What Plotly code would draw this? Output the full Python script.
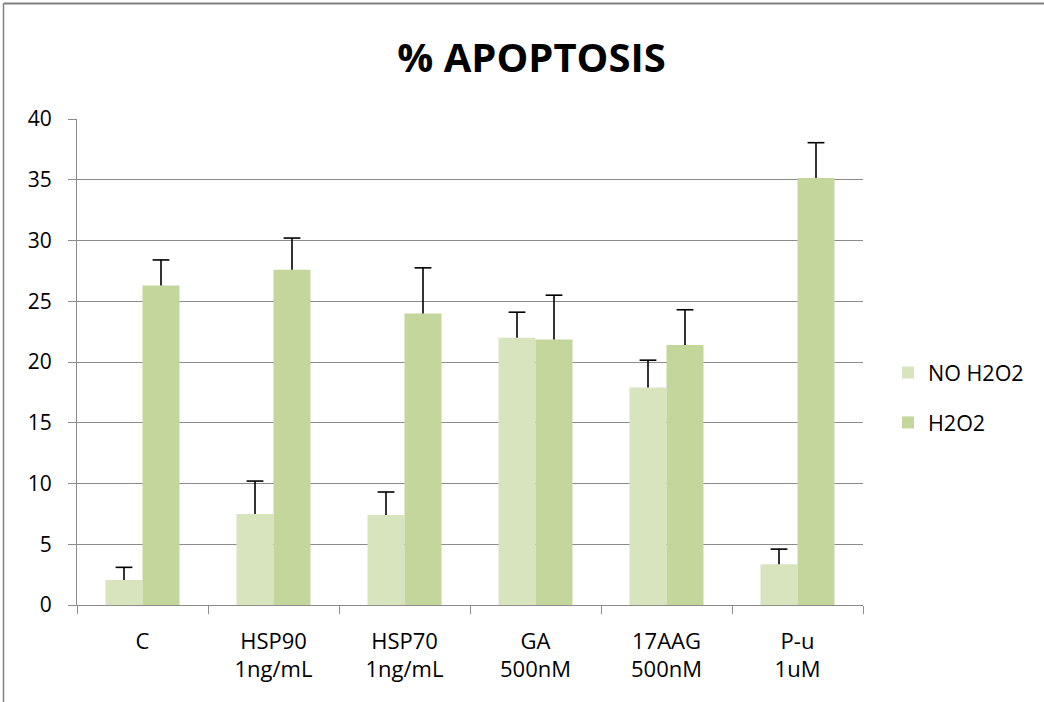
import plotly.graph_objects as go

categories = ["C", "HSP90<br>1ng/mL", "HSP70<br>1ng/mL", "GA<br>500nM", "17AAG<br>500nM", "P-u<br>1uM"]
no_h2o2 = [2.05, 7.5, 7.4, 22.0, 17.9, 3.35]
no_h2o2_err = [1.05, 2.7, 1.9, 2.1, 2.25, 1.25]
h2o2 = [26.3, 27.6, 24.0, 21.85, 21.4, 35.15]
h2o2_err = [2.1, 2.6, 3.75, 3.65, 2.9, 2.9]
series_names = ["NO H2O2", "H2O2"]
y_ticks = [0, 5, 10, 15, 20, 25, 30, 35, 40]

W, H = 1044, 702
L, R, T, B = 77, 863, 119, 605
BARGAP = 0.435
bar_w = (1 - BARGAP) / 2

fig = go.Figure()
series = [
    (series_names[0], no_h2o2, no_h2o2_err, "#D7E4BD", "a", -bar_w / 2),
    (series_names[1], h2o2, h2o2_err, "#C3D69B", "b", bar_w / 2),
]
for name, vals, errs, col, grp, off in series:
    fig.add_trace(go.Bar(
        x=categories, y=vals, name=name, legendgroup=grp,
        marker=dict(color=col, line=dict(width=0)),
    ))

# plus-only error bars (no cap at the bar top), on a hidden numeric axis
for name, vals, errs, col, grp, off in series:
    xs, ys = [], []
    for i, (v, e) in enumerate(zip(vals, errs)):
        xs += [i + off, i + off, None]
        ys += [v, v + e, None]
    fig.add_trace(go.Scatter(x=xs, y=ys, xaxis="x2", mode="lines",
                             line=dict(color="black", width=1.6),
                             showlegend=False, hoverinfo="skip"))
    fig.add_trace(go.Scatter(x=[i + off for i in range(len(vals))],
                             y=[v + e for v, e in zip(vals, errs)], xaxis="x2",
                             mode="markers",
                             marker=dict(symbol="line-ew", size=12,
                                         line=dict(color="black", width=1.6)),
                             showlegend=False, hoverinfo="skip"))

grid = "#8C8C8C"
FONT = "'Open Sans', Lato, sans-serif"
fig.update_layout(
    width=W, height=H,
    margin=dict(l=L, r=W - R, t=T, b=H - B, autoexpand=False),
    paper_bgcolor="white", plot_bgcolor="white",
    barmode="group", bargap=BARGAP, bargroupgap=0,
    font=dict(family=FONT, size=21, color="black"),
    title=dict(text="<b>% APOPTOSIS</b>", x=(531.5) / W, xanchor="center",
               y=1 - 57.5 / H, yanchor="middle",
               font=dict(size=40, family=FONT)),
    legend=dict(x=(888 - L) / (R - L), xanchor="left", y=1 - (352 - T) / (B - T),
                yanchor="top", tracegroupgap=19, font=dict(size=21.5),
                bgcolor="rgba(0,0,0,0)", itemwidth=30),
    xaxis=dict(type="category", showline=True, linecolor=grid, linewidth=1.3,
               ticks="outside", tickson="boundaries", ticklen=8, tickcolor=grid,
               tickwidth=1.3, showgrid=False, tickfont=dict(size=22),
               ticklabelstandoff=16),
    xaxis2=dict(overlaying="x", range=[-0.5, len(categories) - 0.5],
                visible=False, showgrid=False, zeroline=False),
    yaxis=dict(range=[0, 40], tickvals=y_ticks, showline=True, linecolor=grid,
               linewidth=1.3, ticks="outside", ticklen=8, tickcolor=grid,
               tickwidth=1.3, showgrid=True, gridcolor=grid, gridwidth=1.3,
               zeroline=False, tickfont=dict(size=21), ticklabelstandoff=12),
    showlegend=True,
)

# outer chart frame (top and left edges visible in the crop)
px = lambda p: (p - L) / (R - L)
py = lambda p: (B - p) / (B - T)
fig.add_shape(type="line", xref="paper", yref="paper",
              x0=px(3.5), x1=px(W), y0=py(3.5), y1=py(3.5),
              line=dict(color="#7F7F7F", width=2))
fig.add_shape(type="line", xref="paper", yref="paper",
              x0=px(3.5), x1=px(3.5), y0=py(3.5), y1=py(H),
              line=dict(color="#7F7F7F", width=1.5))

fig.write_html("out.html", config={"displayModeBar": False},
               post_script="document.body.style.margin='0px';document.body.style.padding='0px';")
